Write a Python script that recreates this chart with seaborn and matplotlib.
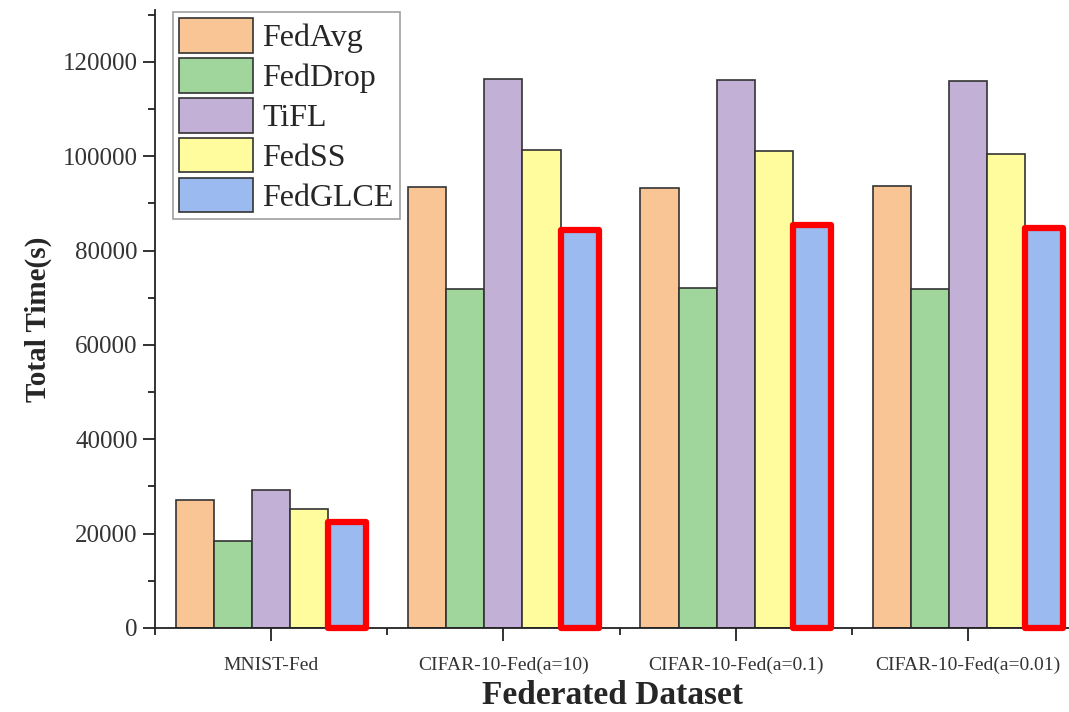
import matplotlib
matplotlib.use("Agg")
import matplotlib.pyplot as plt
import seaborn as sns
import pandas as pd
from matplotlib.patches import Rectangle
from matplotlib.ticker import MultipleLocator, FixedLocator

datasets = ["MNIST-Fed", "CIFAR-10-Fed(a=10)", "CIFAR-10-Fed(a=0.1)", "CIFAR-10-Fed(a=0.01)"]
methods = ["FedAvg", "FedDrop", "TiFL", "FedSS", "FedGLCE"]
fedavg = [27200, 93500, 93300, 93700]
feddrop = [18500, 71800, 72100, 71800]
tifl = [29300, 116400, 116200, 116000]
fedss = [25200, 101300, 101100, 100500]
fedglce = [22500, 84400, 85400, 84800]
colors = ["#FAC594", "#A0D69B", "#C2B0D6", "#FFFC9E", "#9BBAF0"]

rows = []
for m, vals in zip(methods, [fedavg, feddrop, tifl, fedss, fedglce]):
    for d, v in zip(datasets, vals):
        rows.append({"dataset": d, "method": m, "time": v})
df = pd.DataFrame(rows)

sns.set_style("ticks")
plt.rcParams["font.family"] = ["Liberation Serif", "DejaVu Serif"]

fig = plt.figure(figsize=(10.69, 7.12), dpi=100)
ax = fig.add_axes([0.145, 0.118, 0.855, 0.868])

sns.barplot(data=df, x="dataset", y="time", hue="method", order=datasets,
            hue_order=methods, palette=colors, width=0.82, gap=0,
            edgecolor="#333333", linewidth=1.2, saturation=1, ax=ax)

# red highlight boxes around FedGLCE bars
for bar in ax.containers[-1]:
    ax.add_patch(Rectangle((bar.get_x(), bar.get_y()), bar.get_width(), bar.get_height(),
                           fill=False, edgecolor="red", linewidth=4.5,
                           joinstyle="round", clip_on=False, zorder=5))

ax.set_xlim(-0.5, 3.435)
ax.set_ylim(0, 131000)
ax.yaxis.set_major_locator(MultipleLocator(20000))
ax.yaxis.set_minor_locator(MultipleLocator(10000))
ax.xaxis.set_minor_locator(FixedLocator([-0.5, 0.5, 1.5, 2.5]))
ax.tick_params(axis="both", which="major", length=9, width=1.3, color="#222222")
ax.tick_params(axis="both", which="minor", length=5, width=1.3, color="#222222")
ax.tick_params(axis="y", labelsize=18, labelcolor="#333333")
ax.tick_params(axis="x", labelsize=14, labelcolor="#333333", pad=12)
for s in ["top", "right"]:
    ax.spines[s].set_visible(False)
for s in ["left", "bottom"]:
    ax.spines[s].set_linewidth(1.3)
    ax.spines[s].set_color("#222222")

ax.set_xlabel("Federated Dataset", fontsize=24, fontweight="bold", labelpad=4)
ax.set_ylabel("Total Time(s)", fontsize=21, fontweight="bold", labelpad=8)

leg = ax.legend(loc="upper left", bbox_to_anchor=(0.018, 1.0), fontsize=23,
                frameon=True, fancybox=False, edgecolor="#888888",
                handlelength=2.3, handleheight=1.3, labelspacing=0.15,
                handletextpad=0.3, borderpad=0.2, borderaxespad=0.05)
leg.get_frame().set_linewidth(1.2)

fig.savefig("out.png", dpi=100)
